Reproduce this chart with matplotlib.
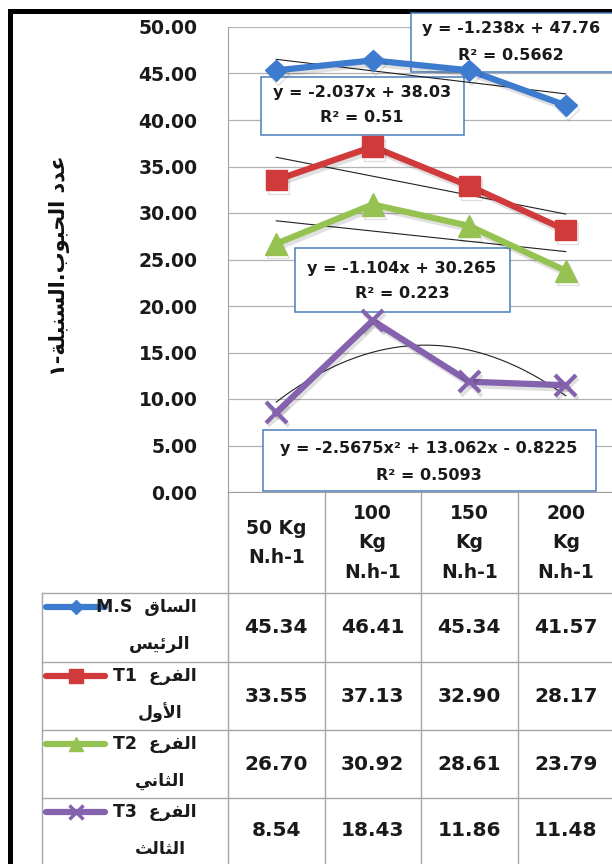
import numpy as np
import matplotlib
matplotlib.use('Agg')
import matplotlib.pyplot as plt
from matplotlib.patches import Rectangle
import matplotlib.transforms as mtransforms
import matplotlib.patheffects as pe

plt.rcParams['font.family'] = ['DejaVu Sans', 'Noto Sans CJK SC']

# ---------------- data ----------------
categories = ['50 Kg\nN.h-1', '100\nKg\nN.h-1', '150\nKg\nN.h-1', '200\nKg\nN.h-1']
series_codes = ['M.S', 'T1', 'T2', 'T3']
series_ar_line1 = ['الساق', 'الفرع', 'الفرع', 'الفرع']
series_ar_line2 = ['الرئيس', 'الأول', 'الثاني', 'الثالث']
ms_values = [45.34, 46.41, 45.34, 41.57]
t1_values = [33.55, 37.13, 32.90, 28.17]
t2_values = [26.70, 30.92, 28.61, 23.79]
t3_values = [8.54, 18.43, 11.86, 11.48]
trend_degrees = [1, 1, 1, 2]
trend_equations = ['y = -1.238x + 47.76', 'y = -2.037x + 38.03',
                   'y = -1.104x + 30.265', 'y = -2.5675x² + 13.062x - 0.8225']
trend_r2 = ['R² = 0.5662', 'R² = 0.51', 'R² = 0.223', 'R² = 0.5093']
y_ticks = [0, 5, 10, 15, 20, 25, 30, 35, 40, 45, 50]
y_label = 'عدد الحبوب.السنبلة-١'

series_values = [ms_values, t1_values, t2_values, t3_values]
colors = ['#3D7BCE', '#D03A3A', '#96C251', '#8462AE']
markers = ['D', 's', '^', 'x']
msizes = [11, 15, 16, 15]
legend_msizes = [7, 10, 10, 10]

# ---------------- Arabic shaping (presentation forms) ----------------
_D = {'ئ': 0xFE89, 'ب': 0xFE8F, 'ت': 0xFE95, 'ث': 0xFE99, 'ج': 0xFE9D, 'ح': 0xFEA1,
      'خ': 0xFEA5, 'س': 0xFEB1, 'ش': 0xFEB5, 'ص': 0xFEB9, 'ض': 0xFEBD, 'ط': 0xFEC1,
      'ظ': 0xFEC5, 'ع': 0xFEC9, 'غ': 0xFECD, 'ف': 0xFED1, 'ق': 0xFED5, 'ك': 0xFED9,
      'ل': 0xFEDD, 'م': 0xFEE1, 'ن': 0xFEE5, 'ه': 0xFEE9, 'ي': 0xFEF1}
_R = {'آ': 0xFE81, 'أ': 0xFE83, 'ؤ': 0xFE85, 'إ': 0xFE87, 'ا': 0xFE8D, 'ة': 0xFE93,
      'د': 0xFEA9, 'ذ': 0xFEAB, 'ر': 0xFEAD, 'ز': 0xFEAF, 'و': 0xFEED, 'ى': 0xFEEF}
_LAM_ALEF = {'آ': 0xFEF5, 'أ': 0xFEF7, 'إ': 0xFEF9, 'ا': 0xFEFB}


def _shape(text):
    ch = list(text)
    n = len(ch)
    out = []
    i = 0
    joinable = lambda c: c in _D or c in _R
    while i < n:
        c = ch[i]
        prev = ch[i - 1] if i > 0 else None
        jp = prev is not None and prev in _D and joinable(c)
        if c == 'ل' and i + 1 < n and ch[i + 1] in _LAM_ALEF:
            out.append(chr(_LAM_ALEF[ch[i + 1]] + (1 if jp else 0)))
            i += 2
            continue
        nxt = ch[i + 1] if i + 1 < n else None
        jn = c in _D and nxt is not None and joinable(nxt)
        if c in _D:
            off = 3 if (jp and jn) else (1 if jp else (2 if jn else 0))
            out.append(chr(_D[c] + off))
        elif c in _R:
            out.append(chr(_R[c] + (1 if jp else 0)))
        else:
            out.append(c)
        i += 1
    return ''.join(out)


def ar(text):
    return _shape(text)[::-1]


# ---------------- figure ----------------
W, H = 612, 864
fig = plt.figure(figsize=(W / 100, H / 100), dpi=100)
fig.patch.set_facecolor('white')


def px_rect(x0, y0, x1, y1):
    return [x0 / W, 1 - y1 / H, (x1 - x0) / W, (y1 - y0) / H]


bg = fig.add_axes([0, 0, 1, 1], zorder=0)
bg.set_xlim(0, W)
bg.set_ylim(H, 0)
bg.axis('off')

X0, X1, YT, YB = 228, 614, 27, 492
ax = fig.add_axes(px_rect(X0, YT, X1, YB), zorder=1)
ax.patch.set_alpha(0)
ax.set_xlim(0.5, 4.5)
ax.set_ylim(0, 50)
ax.set_yticks(y_ticks)
ax.yaxis.set_major_formatter(matplotlib.ticker.FuncFormatter(lambda v, p: f'{v:.2f}'))
ax.set_xticks([])
ax.tick_params(axis='y', length=0, pad=22, labelsize=13.5, labelcolor='#1a1a1a')
for lab in ax.get_yticklabels():
    lab.set_fontweight('bold')
ax.grid(axis='y', color='#B3B3B3', lw=0.9)
ax.set_axisbelow(True)
for s in ['top', 'right']:
    ax.spines[s].set_visible(False)
ax.spines['left'].set_color('#A0A0A0')
ax.spines['bottom'].set_color('#A0A0A0')

xs = np.arange(1, len(categories) + 1)
xfine = np.linspace(1, len(categories), 200)

# series + trendlines
for vals, col, mk, ms, deg in zip(series_values, colors, markers, msizes, trend_degrees):
    coef = np.polyfit(xs, vals, deg)
    ax.plot(xfine, np.polyval(coef, xfine), color='#202020', lw=0.8, zorder=2.5)
    mew = 3 if mk == 'x' else 1
    ax.plot(xs, vals, color=col, lw=4.5, marker=mk, markersize=ms,
            markeredgecolor=col, markerfacecolor=col, markeredgewidth=mew,
            solid_joinstyle='round', zorder=3,
            path_effects=[pe.SimpleLineShadow(offset=(1.5, -2.5), alpha=0.12), pe.Normal()])

# trendline equation boxes (pixel layout)
pix = bg.transData
eq_boxes = [(411, 13, 622, 72), (261, 77, 464, 135), (295, 248, 510, 312), (263, 430, 596, 491)]
eq_rows = [(29, 55), (92, 118), (268, 293), (448, 475)]
eq_cx = [511, 362, 402, 429]
for (x0, y0, x1, y1), (l1, l2), cx, eq, r2 in zip(eq_boxes, eq_rows, eq_cx, trend_equations, trend_r2):
    ax.add_patch(Rectangle((x0, y0), x1 - x0, y1 - y0, transform=pix, facecolor='white',
                           edgecolor='#4A7EBB', lw=1.1, zorder=1.5, clip_on=False))
    ax.text(cx, l1, eq, transform=pix, ha='center', va='center', fontsize=11.5,
            fontweight='bold', color='#1a1a1a', zorder=4, clip_on=False)
    ax.text(cx, l2, r2, transform=pix, ha='center', va='center', fontsize=11.5,
            fontweight='bold', color='#1a1a1a', zorder=4, clip_on=False)

# y label
bg.text(60, 266, ar(y_label), rotation=90, ha='center', va='center', fontsize=15,
        fontweight='bold', color='#111111')

# black frame (top and left)
bg.add_patch(Rectangle((8, 9), W - 8, 5, facecolor='black', edgecolor='none'))
bg.add_patch(Rectangle((8, 9), 5, H - 9, facecolor='black', edgecolor='none'))

# ---------------- data table ----------------
blend = mtransforms.blended_transform_factory(ax.transData, bg.transData)
grid_c = '#A6A6A6'
row_edges = [593, 662, 730, 798, 864]
col_edges = [0.5, 1.5, 2.5, 3.5, 4.5]
LEFT = 42
for ce in col_edges[:-1]:
    bg.plot([ce, ce], [YB, H], color=grid_c, lw=1, transform=blend, clip_on=False)
bg.plot([LEFT, LEFT], [row_edges[0], H], color=grid_c, lw=1)
for re in row_edges[:-1]:
    bg.plot([LEFT, W], [re, re], color=grid_c, lw=1)

# header
for xi, cat in zip(xs, categories):
    bg.text(xi, 543, cat, transform=blend, ha='center', va='center', fontsize=13.5,
            fontweight='bold', color='#1a1a1a', linespacing=1.72)

# rows
for r, (vals, col, mk, lms, code, w1, w2) in enumerate(zip(series_values, colors, markers, legend_msizes,
                                                         series_codes, series_ar_line1, series_ar_line2)):
    top, bot = row_edges[r], row_edges[r + 1]
    yc = (top + bot) / 2
    for xi, v in zip(xs, vals):
        bg.text(xi, yc, f'{v:.2f}', transform=blend, ha='center', va='center', fontsize=14.5,
                fontweight='bold', color='#1a1a1a')
    ky = top + 14
    bg.plot([46, 105], [ky, ky], color=col, lw=4.5, solid_capstyle='round')
    bg.plot([75.5], [ky], marker=mk, markersize=lms, color=col, markeredgewidth=2.5 if mk == 'x' else 1)
    bg.text(197, ky, code + '  ' + ar(w1), ha='right', va='center', fontsize=12.5,
            fontweight='bold', color='#1a1a1a')
    bg.text(160, top + 51, ar(w2), ha='center', va='center', fontsize=12.5,
            fontweight='bold', color='#1a1a1a')

fig.savefig('out.png', dpi=100, facecolor='white')
